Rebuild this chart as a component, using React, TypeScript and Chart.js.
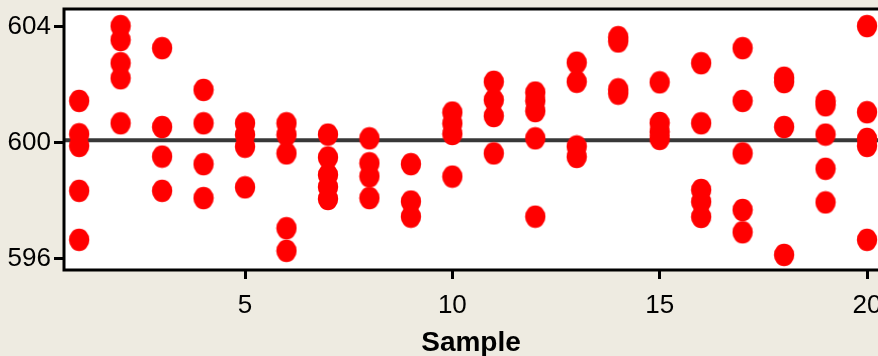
import { useEffect, useRef } from 'react';
import { Chart, registerables } from 'chart.js';

Chart.register(...registerables);

// ---- data ----
const sampleNumbers = [1, 2, 3, 4, 5, 6, 7, 8, 9, 10, 11, 12, 13, 14, 15, 16, 17, 18, 19, 20];
const measurements: number[][] = [
  [601.45, 600.3, 599.9, 598.35, 596.66],
  [604.03, 603.55, 602.75, 602.23, 600.68],
  [603.27, 600.55, 599.53, 598.35],
  [601.83, 600.68, 599.27, 598.1],
  [600.68, 600.28, 599.87, 598.47],
  [600.68, 600.28, 599.64, 597.06, 596.28],
  [600.29, 599.5, 598.9, 598.48, 598.07],
  [600.16, 599.3, 598.85, 598.1],
  [599.27, 597.98, 597.46],
  [601.05, 600.67, 600.31, 598.84],
  [602.11, 601.48, 600.93, 599.64],
  [601.74, 601.45, 601.1, 600.16, 597.46],
  [602.77, 602.11, 599.88, 599.52],
  [603.65, 603.5, 601.85, 601.7],
  [602.09, 600.69, 600.38, 600.14],
  [602.75, 600.68, 598.38, 597.97, 597.45],
  [603.27, 601.45, 599.64, 597.69, 596.92],
  [602.25, 602.1, 600.55, 596.14],
  [601.45, 601.3, 600.29, 599.11, 597.95],
  [604.03, 601.06, 600.14, 599.9, 596.66],
];
const centerLine = 600.09;
const xTickValues = [5, 10, 15, 20];
const yTickValues = [596, 600, 604];
const xRange = [0.635, 21.76];
const yRange = [595.62, 604.62];
const xTitle = 'Sample';

const BG = '#EEEBE1';
const VIEW_W = 878;
const VIEW_H = 356;
const CANVAS_W = 940;

function makeEllipse(): HTMLCanvasElement {
  const c = document.createElement('canvas');
  c.width = 22;
  c.height = 24;
  const g = c.getContext('2d')!;
  g.fillStyle = '#FF0000';
  g.beginPath();
  g.ellipse(11, 12, 10.2, 11.3, 0, 0, Math.PI * 2);
  g.fill();
  return c;
}

export default function App() {
  const ref = useRef<HTMLCanvasElement | null>(null);

  useEffect(() => {
    document.body.style.margin = '0';
    document.body.style.background = BG;
    const canvas = ref.current;
    if (!canvas) return;

    const points = sampleNumbers.flatMap((s, i) => measurements[i].map((v) => ({ x: s, y: v })));
    const ellipse = makeEllipse();

    const framePlugin = {
      id: 'frame',
      beforeDraw(chart: any) {
        const { ctx, chartArea } = chart;
        ctx.save();
        ctx.fillStyle = BG;
        ctx.fillRect(0, 0, chart.width, chart.height);
        ctx.fillStyle = '#FFFFFF';
        ctx.fillRect(chartArea.left, chartArea.top, chartArea.right - chartArea.left, chartArea.bottom - chartArea.top);
        ctx.restore();
      },
      afterDraw(chart: any) {
        const { ctx, chartArea } = chart;
        ctx.save();
        ctx.strokeStyle = '#000000';
        ctx.lineWidth = 3;
        ctx.lineCap = 'square';
        ctx.beginPath();
        ctx.moveTo(chart.width + 5, chartArea.top);
        ctx.lineTo(chartArea.left, chartArea.top);
        ctx.lineTo(chartArea.left, chartArea.bottom);
        ctx.lineTo(chart.width + 5, chartArea.bottom);
        ctx.stroke();
        // axis title, centred under the visible part of the plot
        ctx.fillStyle = '#000000';
        ctx.font = "bold 28px 'Liberation Sans', Arial, sans-serif";
        ctx.textAlign = 'center';
        ctx.textBaseline = 'alphabetic';
        ctx.fillText(xTitle, (chartArea.left + VIEW_W) / 2, 351);
        ctx.restore();
      },
    };

    const tickFont = { family: "'Liberation Sans', Arial, sans-serif", size: 26 };

    const chart = new Chart(canvas, {
      type: 'scatter',
      data: {
        datasets: [
          {
            type: 'scatter',
            data: points,
            pointStyle: ellipse as any,
            pointRadius: 11,
            backgroundColor: '#FF0000',
            borderWidth: 0,
            order: 0,
          },
          {
            type: 'line',
            data: [
              { x: xRange[0], y: centerLine },
              { x: xRange[1], y: centerLine },
            ],
            borderColor: '#383838',
            borderWidth: 4,
            pointRadius: 0,
            fill: false,
            order: 1,
          } as any,
        ],
      },
      options: {
        responsive: false,
        animation: false,
        devicePixelRatio: 1,
        layout: { autoPadding: false, padding: { top: 9, left: 0, right: 0, bottom: 0 } },
        plugins: { legend: { display: false }, tooltip: { enabled: false } },
        scales: {
          x: {
            type: 'linear',
            min: xRange[0],
            max: xRange[1],
            afterBuildTicks: (s: any) => {
              s.ticks = xTickValues.map((v) => ({ value: v }));
            },
            afterFit: (s: any) => {
              s.height = VIEW_H - 270;
              s.paddingLeft = 0;
              s.paddingRight = 0;
            },
            border: { display: false },
            grid: { display: true, drawOnChartArea: false, drawTicks: true, tickLength: 9, tickWidth: 3, tickColor: '#000000' },
            ticks: { font: tickFont, color: '#000000', padding: 11, maxRotation: 0, autoSkip: false },
          },
          y: {
            type: 'linear',
            min: yRange[0],
            max: yRange[1],
            afterBuildTicks: (s: any) => {
              s.ticks = yTickValues.map((v) => ({ value: v }));
            },
            afterFit: (s: any) => {
              s.width = 64;
              s.paddingTop = 0;
              s.paddingBottom = 0;
            },
            border: { display: false },
            grid: { display: true, drawOnChartArea: false, drawTicks: true, tickLength: 10, tickWidth: 3, tickColor: '#000000' },
            ticks: { font: tickFont, color: '#000000', padding: 3, autoSkip: false },
          },
        },
      },
      plugins: [framePlugin],
    } as any);

    return () => chart.destroy();
  }, []);

  return (
    <div style={{ width: VIEW_W, height: VIEW_H, overflow: 'hidden', background: BG }}>
      <canvas ref={ref} width={CANVAS_W} height={VIEW_H} style={{ display: 'block' }} />
    </div>
  );
}
